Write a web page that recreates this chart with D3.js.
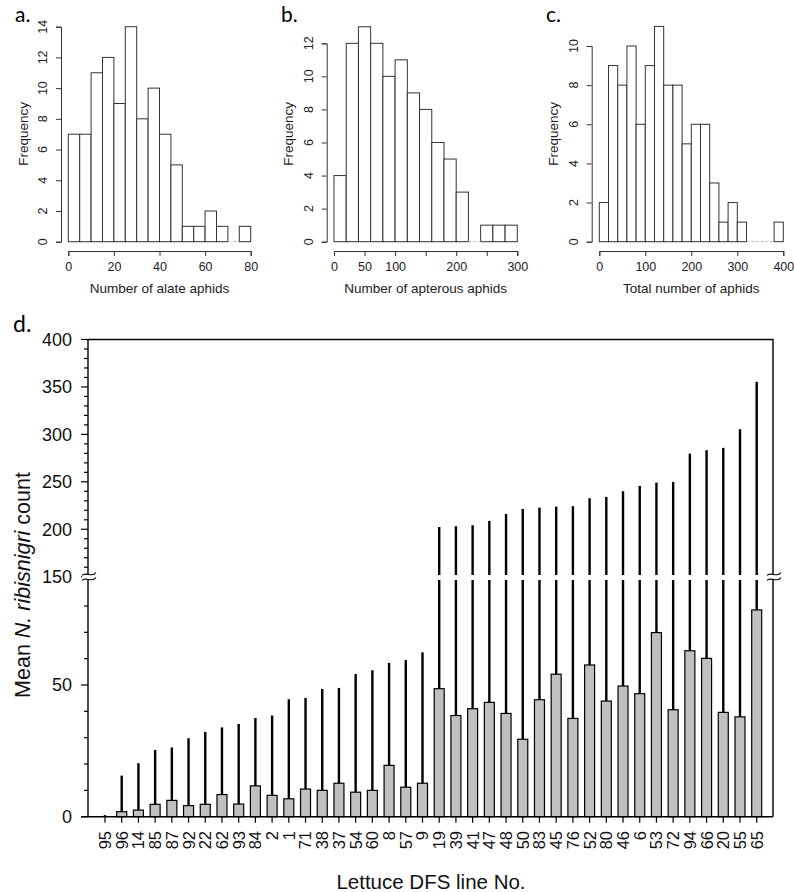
<!DOCTYPE html>
<html><head><meta charset="utf-8">
<script src="https://cdn.jsdelivr.net/npm/d3@7"></script>
<style>
body{margin:0;background:#fff;}
svg{display:block;font-family:"Liberation Sans",Arial,sans-serif;}
</style></head>
<body><svg id="c" width="794" height="892"></svg>
<script>
// ---- Histogram data ----
const alateBins = [0,5,10,15,20,25,30,35,40,45,50,55,60,65,70,75,80];
const alateCounts = [7,7,11,12,9,14,8,10,7,5,1,1,2,1,0,1];
const apterousBins = [0,20,40,60,80,100,120,140,160,180,200,220,240,260,280,300];
const apterousCounts = [4,12,13,12,10,11,9,8,6,5,3,0,1,1,1];
const totalBins = [0,20,40,60,80,100,120,140,160,180,200,220,240,260,280,300,320,340,360,380,400];
const totalCounts = [2,9,8,10,6,9,11,8,8,5,6,6,3,1,2,1,0,0,0,1];
const alateXTicks = [0,20,40,60,80];
const apterousXTicks = [0,50,100,150,200,250,300];
const apterousXLabels = [0,50,100,200,300];
const totalXTicks = [0,100,200,300,400];
const alateYTicks = [0,2,4,6,8,10,12,14];
const apterousYTicks = [0,2,4,6,8,10,12];
const totalYTicks = [0,2,4,6,8,10];

// ---- Bar chart data ----
const lines = ["95","96","14","85","87","92","22","62","93","84","2","1","71","38","37","54","60","8","57","9",
               "19","39","41","47","48","50","83","45","76","52","80","46","6","53","72","94","66","20","55","65"];
const means = [0,1.9,2.5,4.7,6.2,4.2,4.7,8.4,4.8,11.7,8.1,6.8,10.5,10.0,12.7,9.3,10.0,19.5,11.2,12.7,
               48.6,38.4,41.0,43.4,39.2,29.4,44.4,54.1,37.3,57.6,43.9,49.6,46.7,69.9,40.6,63.0,60.1,39.6,37.9,78.5];
const uppers = [0.6,15.6,20.3,25.3,26.3,29.8,32.2,33.9,35.2,37.5,38.4,44.6,45.1,48.5,48.9,54.2,55.6,58.4,59.5,62.4,
                202.4,203.2,204.2,208.8,216.1,221.4,222.8,223.9,224.3,232.7,234.1,240.1,245.7,249.2,249.9,279.7,283.3,285.8,305.5,355.4];
const lowerMajor = [0,50];
const upperMajor = [150,200,250,300,350,400];

(function(){
const svg = d3.select("#c");
const labelFont = "Lato, 'Open Sans', sans-serif";

function hist(cfg){
  const g = svg.append("g");
  const x = d3.scaleLinear().domain(cfg.xDom).range(cfg.xRange);
  const y = d3.scaleLinear().domain(cfg.yDom).range(cfg.yRange);
  const bins = cfg.bins.slice(0,-1).map((b,i)=>({x0:b,x1:cfg.bins[i+1],n:cfg.counts[i]}));
  g.selectAll("rect.b").data(bins.filter(d=>d.n>0)).join("rect")
    .attr("x",d=>x(d.x0)).attr("width",d=>x(d.x1)-x(d.x0))
    .attr("y",d=>y(d.n)).attr("height",d=>y(0)-y(d.n))
    .attr("fill","#fff").attr("stroke","#333").attr("stroke-width",1);
  g.selectAll("line.z").data(bins.filter(d=>d.n===0)).join("line")
    .attr("x1",d=>x(d.x0)).attr("x2",d=>x(d.x1)).attr("y1",y(0)).attr("y2",y(0))
    .attr("stroke","#bbb").attr("stroke-width",1).attr("stroke-dasharray","3,2");
  const xa = g.append("g").attr("transform",`translate(0,${cfg.xAxisY})`)
    .call(d3.axisBottom(x).tickValues(cfg.xTicks).tickSizeOuter(0).tickSize(5)
      .tickFormat(d=>cfg.xLabels.includes(d)?d:""));
  xa.select(".domain").attr("stroke","#333");
  xa.selectAll(".tick line").attr("stroke","#333");
  xa.selectAll("text").attr("font-size",12.5).attr("fill","#222").attr("dy","0.95em")
    .attr("font-family","'Liberation Sans',Arial,sans-serif");
  const ya = g.append("g").attr("transform",`translate(${cfg.yAxisX},0)`)
    .call(d3.axisLeft(y).tickValues(cfg.yTicks).tickSizeOuter(0).tickSize(5).tickFormat(""));
  ya.select(".domain").attr("stroke","#333");
  ya.selectAll(".tick line").attr("stroke","#333");
  g.selectAll("text.yl").data(cfg.yTicks).join("text")
    .attr("transform",d=>`translate(${cfg.yAxisX-18},${y(d)}) rotate(-90)`)
    .attr("text-anchor","middle").attr("dy","0.35em").attr("font-size",12.5).attr("fill","#222")
    .text(d=>d);
  g.append("text").attr("transform",`translate(${cfg.yAxisX-38},${(cfg.yRange[0]+26)/2}) rotate(-90)`)
    .attr("text-anchor","middle").attr("dy","0.35em").attr("font-size",13.5).attr("fill","#222").text("Frequency");
  g.append("text").attr("x",(cfg.xRange[0]+cfg.xRange[1])/2).attr("y",293)
    .attr("text-anchor","middle").attr("font-size",13.5).attr("fill","#222").text(cfg.title);
  g.append("text").attr("x",cfg.tagX).attr("y",22).attr("font-size",21).attr("font-family",labelFont).text(cfg.tag);
}

hist({bins:alateBins,counts:alateCounts,xDom:[0,80],xRange:[68.3,250.7],yDom:[0,14],yRange:[241.7,26.7],
  xTicks:alateXTicks,xLabels:alateXTicks,yTicks:alateYTicks,xAxisY:251,yAxisX:61,title:"Number of alate aphids",tag:"a.",tagX:15});
hist({bins:apterousBins,counts:apterousCounts,xDom:[0,300],xRange:[334,517.3],yDom:[0,12],yRange:[241.7,43.3],
  xTicks:apterousXTicks,xLabels:apterousXLabels,yTicks:apterousYTicks,xAxisY:251,yAxisX:326.7,title:"Number of apterous aphids",tag:"b.",tagX:281});
hist({bins:totalBins,counts:totalCounts,xDom:[0,400],xRange:[599.3,783.3],yDom:[0,10],yRange:[241.7,46],
  xTicks:totalXTicks,xLabels:totalXTicks,yTicks:totalYTicks,xAxisY:251,yAxisX:591.7,title:"Total number of aphids",tag:"c.",tagX:546});

// ---- Panel d ----
const left=88, right=773, topY=339.5, base=816.7, brk=577;
const x = d3.scalePoint().domain(lines).range([105,756.7]);
const yLo = d3.scaleLinear().domain([0,91]).range([base,brk]);
const yUp = d3.scaleLinear().domain([150,400]).range([576.7,topY]);
const gd = svg.append("g");
const data = lines.map((l,i)=>({l,m:means[i],u:uppers[i]}));

data.forEach(d=>{
  const cx = x(d.l);
  if(d.u<=91){
    gd.append("line").attr("x1",cx).attr("x2",cx).attr("y1",yLo(d.m)).attr("y2",yLo(d.u))
      .attr("stroke","#000").attr("stroke-width",2.4);
  } else {
    gd.append("line").attr("x1",cx).attr("x2",cx).attr("y1",yLo(d.m)).attr("y2",brk+3)
      .attr("stroke","#000").attr("stroke-width",2.4);
    gd.append("line").attr("x1",cx).attr("x2",cx).attr("y1",brk-2).attr("y2",yUp(d.u))
      .attr("stroke","#000").attr("stroke-width",2.4);
  }
});
gd.selectAll("rect.bar").data(data.filter(d=>d.m>0)).join("rect")
  .attr("x",d=>x(d.l)-5).attr("width",10)
  .attr("y",d=>yLo(d.m)).attr("height",d=>base-yLo(d.m))
  .attr("fill","#c0c0c0").attr("stroke","#000").attr("stroke-width",1.2);

gd.append("path").attr("d",`M${left},${topY}H${right}V${base}M${left-7},${base}H${right}M${left},${topY}V${base}`)
  .attr("fill","none").attr("stroke","#000").attr("stroke-width",1.4);

const minorLo = d3.range(10,90,10).filter(v=>v%50!==0);
const minorUp = d3.range(160,400,10).filter(v=>v%50!==0);
const tk = (yv,len)=>gd.append("line").attr("x1",left-len).attr("x2",left).attr("y1",yv).attr("y2",yv)
  .attr("stroke","#000").attr("stroke-width",1.2);
minorLo.forEach(v=>tk(yLo(v),4));
minorUp.forEach(v=>tk(yUp(v),4));
lowerMajor.forEach(v=>tk(yLo(v),7));
upperMajor.forEach(v=>tk(yUp(v),7));
const yl = (yv,t)=>gd.append("text").attr("x",left-16).attr("y",yv).attr("dy","0.36em")
  .attr("text-anchor","end").attr("font-size",18).attr("fill","#111").text(t);
lowerMajor.forEach(v=>yl(yLo(v),v));
upperMajor.forEach(v=>yl(yUp(v),v));

function brkSym(cx){
  const w=7;
  gd.append("rect").attr("x",cx-w).attr("y",brk-3).attr("width",2*w).attr("height",5).attr("fill","#fff");
  [brk-3,brk+2].forEach(yy=>{
    gd.append("path").attr("d",`M${cx-w},${yy+1.5} C${cx-w/2},${yy-3} ${cx+w/2},${yy+4.5} ${cx+w},${yy-1.5}`)
      .attr("fill","none").attr("stroke","#000").attr("stroke-width",1.1);
  });
}
brkSym(left+1);
brkSym(right+1);

lines.forEach(l=>{
  gd.append("line").attr("x1",x(l)).attr("x2",x(l)).attr("y1",base).attr("y2",base+6)
    .attr("stroke","#000").attr("stroke-width",1.2);
});
gd.selectAll("text.xl").data(lines).join("text")
  .attr("transform",d=>`translate(${x(d)},${831}) rotate(-90)`)
  .attr("text-anchor","end").attr("dy","0.36em").attr("font-size",16.5).attr("fill","#111").text(d=>d);

gd.append("text").attr("x",431).attr("y",889).attr("text-anchor","middle").attr("font-size",20.5)
  .attr("fill","#111").text("Lettuce DFS line No.");
const yt = gd.append("text").attr("transform","translate(22,585) rotate(-90)").attr("text-anchor","middle")
  .attr("dy","0.35em").attr("font-size",21.5).attr("fill","#111");
yt.append("tspan").text("Mean ");
yt.append("tspan").attr("font-style","italic").text("N. ribisnigri");
yt.append("tspan").text(" count");
gd.append("text").attr("x",13).attr("y",332).attr("font-size",23).attr("font-family",labelFont).text("d.");
})();
</script></body></html>
